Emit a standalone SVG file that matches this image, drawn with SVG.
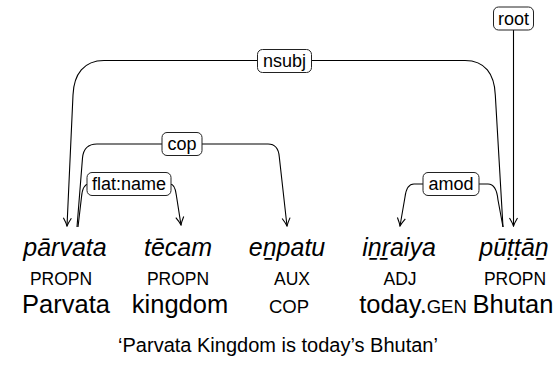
<svg xmlns="http://www.w3.org/2000/svg" width="556" height="373" viewBox="0 0 556 373">
<defs>
<style>
.edge{fill:none;stroke:#000;stroke-width:1.1}
.lbl rect{fill:#fff;stroke:#222;stroke-width:1}
.lbl text{font-family:"Liberation Sans",Arial,sans-serif;font-size:18px;text-anchor:middle;fill:#000}
.w{font-family:"Liberation Sans",Arial,sans-serif;font-style:italic;font-size:25px;text-anchor:middle}
.pos{font-family:"Liberation Sans",Arial,sans-serif;font-size:17.5px;text-anchor:middle}
.gl{font-family:"Liberation Sans",Arial,sans-serif;font-size:25.5px;text-anchor:middle}
.sc{font-size:18.5px}
.tr{font-family:"Liberation Sans",Arial,sans-serif;font-size:20px;text-anchor:middle}
</style>
<marker id="ah" markerUnits="userSpaceOnUse" viewBox="-9 -5 10 10" refX="0" refY="0" markerWidth="10" markerHeight="10" orient="auto">
<path d="M-8,-4 Q-3,-1 0,0 Q-3,1 -8,4" fill="none" stroke="#000" stroke-width="1.1"/>
</marker>
</defs>
<rect width="556" height="373" fill="#fff"/>
<g id="connectors">
<g id="e-nsubj" class="lbl">
<path class="edge" marker-end="url(#ah)" d="M503,227 L495.3,95 C494.5,74 485,60.5 465,60.5 L104,60.5 C84,60.5 73.8,74 73,95 L67,226"/>
<rect x="257.5" y="49.5" width="54" height="23" rx="5"/>
<text x="284.5" y="67">nsubj</text>
</g>
<g id="e-cop" class="lbl">
<path class="edge" marker-end="url(#ah)" d="M77,227 L82.5,158 C83.3,149 88,144 97,144 L268,144 C275,144 278.7,149 279.3,157 L287,226"/>
<rect x="162" y="132.5" width="40" height="23" rx="5"/>
<text x="182" y="150.3">cop</text>
</g>
<g id="e-flat" class="lbl">
<path class="edge" marker-end="url(#ah)" d="M78,227 L81.5,197 C82.2,189 84,184 89,184 L170,184 C173.5,184 175.5,188 176.3,195 L181,225"/>
<rect x="87" y="172.5" width="84" height="23" rx="5"/>
<text x="129" y="190.3">flat:name</text>
</g>
<g id="e-amod" class="lbl">
<path class="edge" marker-end="url(#ah)" d="M503,227 L498,200 C497,190 494,184 488,184 L414,184 C409,184 406,189 405,197 L400,226"/>
<rect x="423" y="172.5" width="56" height="23" rx="5"/>
<text x="451" y="190.3">amod</text>
</g>
<g id="e-root" class="lbl">
<path class="edge" marker-end="url(#ah)" d="M513.5,30 L513.5,226"/>
<rect x="493.5" y="7" width="40" height="23" rx="5"/>
<text x="513.5" y="24.5">root</text>
</g>
</g>
<g id="n1">
<text class="w" x="65" y="256">pārvata</text>
<text class="pos" x="61" y="285">PROPN</text>
<text class="gl" x="66" y="313">Parvata</text>
</g>
<g id="n2">
<text class="w" x="178" y="256">tēcam</text>
<text class="pos" x="178" y="285">PROPN</text>
<text class="gl" x="180" y="313">kingdom</text>
</g>
<g id="n3">
<text class="w" x="287" y="256">eṉpatu</text>
<text class="pos" x="292" y="285">AUX</text>
<text class="gl sc" x="289" y="313">COP</text>
</g>
<g id="n4">
<text class="w" x="399" y="256">iṉṟaiya</text>
<text class="pos" x="400" y="285">ADJ</text>
<text class="gl" x="413" y="313">today.<tspan class="sc">GEN</tspan></text>
</g>
<g id="n5">
<text class="w" x="514" y="256">pūṭṭāṉ</text>
<text class="pos" x="515" y="285">PROPN</text>
<text class="gl" x="513" y="313">Bhutan</text>
</g>
<g id="translation">
<text class="tr" x="278" y="352">‘Parvata Kingdom is today’s Bhutan’</text>
</g>
</svg>
